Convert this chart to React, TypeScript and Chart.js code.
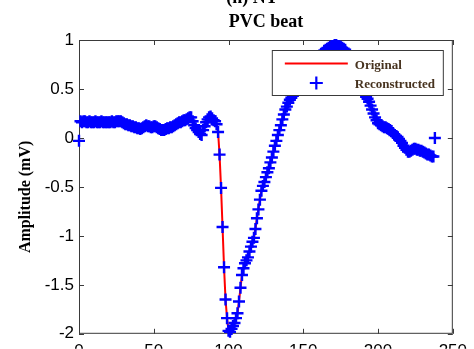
import React, { useEffect, useRef } from "react";
import { Chart, registerables } from "chart.js";

Chart.register(...registerables);

// Sample index 0..238
const original: number[] = [
  0.17, 0.17, 0.16, 0.17, 0.17, 0.16, 0.16, 0.17, 0.16, 0.16,
  0.16, 0.17, 0.16, 0.16, 0.16, 0.17, 0.16, 0.16, 0.16, 0.16,
  0.16, 0.16, 0.17, 0.16, 0.16, 0.17, 0.17, 0.17, 0.17, 0.16,
  0.15, 0.14, 0.14, 0.13, 0.13, 0.12, 0.12, 0.11, 0.11, 0.10,
  0.10, 0.09, 0.10, 0.11, 0.12, 0.13, 0.12, 0.12, 0.11, 0.11,
  0.12, 0.12, 0.11, 0.10, 0.09, 0.08, 0.08, 0.08, 0.09, 0.10,
  0.10, 0.11, 0.11, 0.12, 0.13, 0.14, 0.15, 0.16, 0.16, 0.17,
  0.18, 0.18, 0.19, 0.20, 0.21, 0.21, 0.17, 0.13, 0.10, 0.08,
  0.06, 0.04, 0.03, 0.08, 0.12, 0.16, 0.19, 0.21, 0.22, 0.20,
  0.18, 0.17, 0.14, 0.06, -0.17, -0.51, -0.91, -1.32, -1.65, -1.84,
  -1.97, -1.98, -1.95, -1.92, -1.89, -1.84, -1.79, -1.67, -1.53, -1.40,
  -1.33, -1.28, -1.25, -1.22, -1.16, -1.11, -1.06, -1.02, -0.93, -0.82,
  -0.73, -0.63, -0.54, -0.49, -0.45, -0.40, -0.35, -0.31, -0.25, -0.20,
  -0.14, -0.08, -0.03, 0.03, 0.08, 0.13, 0.19, 0.24, 0.29, 0.32,
  0.36, 0.39, 0.41, 0.43, 0.44, 0.46, 0.48, 0.50, 0.52, 0.55,
  0.57, 0.59, 0.62, 0.64, 0.67, 0.69, 0.72, 0.74, 0.77, 0.79,
  0.82, 0.84, 0.86, 0.87, 0.89, 0.90, 0.91, 0.92, 0.93, 0.94,
  0.94, 0.95, 0.95, 0.94, 0.94, 0.93, 0.92, 0.91, 0.90, 0.87,
  0.84, 0.80, 0.76, 0.72, 0.68, 0.64, 0.60, 0.56, 0.52, 0.49,
  0.46, 0.44, 0.42, 0.40, 0.37, 0.33, 0.29, 0.25, 0.21, 0.18,
  0.15, 0.14, 0.13, 0.12, 0.11, 0.11, 0.10, 0.09, 0.08, 0.07,
  0.05, 0.03, 0.02, 0.01, -0.01, -0.03, -0.05, -0.08, -0.10, -0.12,
  -0.14, -0.14, -0.13, -0.12, -0.11, -0.11, -0.12, -0.12, -0.13, -0.13,
  -0.14, -0.15, -0.16, -0.17, -0.17, -0.18, -0.19, -0.19, -0.20,
];

const reconstructed: number[] = [
  -0.03, 0.17, 0.16, 0.17, 0.17, 0.16, 0.16, 0.17, 0.16, 0.16,
  0.16, 0.17, 0.16, 0.16, 0.16, 0.17, 0.16, 0.16, 0.16, 0.16,
  0.16, 0.16, 0.17, 0.16, 0.16, 0.17, 0.17, 0.17, 0.17, 0.16,
  0.15, 0.14, 0.14, 0.13, 0.13, 0.12, 0.12, 0.11, 0.11, 0.10,
  0.10, 0.09, 0.10, 0.11, 0.12, 0.13, 0.12, 0.12, 0.11, 0.11,
  0.12, 0.12, 0.11, 0.10, 0.09, 0.08, 0.08, 0.08, 0.09, 0.10,
  0.10, 0.11, 0.11, 0.12, 0.13, 0.14, 0.15, 0.16, 0.16, 0.17,
  0.18, 0.18, 0.19, 0.20, 0.21, 0.21, 0.17, 0.13, 0.10, 0.08,
  0.06, 0.04, 0.03, 0.08, 0.12, 0.16, 0.19, 0.21, 0.22, 0.20,
  0.18, 0.17, 0.14, 0.06, -0.17, -0.51, -0.91, -1.32, -1.65, -1.84,
  -1.97, -1.98, -1.95, -1.92, -1.89, -1.84, -1.79, -1.67, -1.53, -1.40,
  -1.33, -1.28, -1.25, -1.22, -1.16, -1.11, -1.06, -1.02, -0.93, -0.82,
  -0.73, -0.63, -0.54, -0.49, -0.45, -0.40, -0.35, -0.31, -0.25, -0.20,
  -0.14, -0.08, -0.03, 0.03, 0.08, 0.13, 0.19, 0.24, 0.29, 0.32,
  0.36, 0.39, 0.41, 0.43, 0.44, 0.46, 0.48, 0.50, 0.52, 0.55,
  0.57, 0.59, 0.62, 0.64, 0.67, 0.69, 0.72, 0.74, 0.77, 0.79,
  0.82, 0.84, 0.86, 0.87, 0.89, 0.90, 0.91, 0.92, 0.93, 0.94,
  0.94, 0.95, 0.95, 0.94, 0.94, 0.93, 0.92, 0.91, 0.90, 0.87,
  0.84, 0.80, 0.76, 0.72, 0.68, 0.64, 0.60, 0.56, 0.52, 0.49,
  0.46, 0.44, 0.42, 0.40, 0.37, 0.33, 0.29, 0.25, 0.21, 0.18,
  0.15, 0.14, 0.13, 0.12, 0.11, 0.11, 0.10, 0.09, 0.08, 0.07,
  0.05, 0.03, 0.02, 0.01, -0.01, -0.03, -0.05, -0.08, -0.10, -0.12,
  -0.14, -0.14, -0.13, -0.12, -0.11, -0.11, -0.12, -0.12, -0.13, -0.13,
  -0.14, -0.15, -0.16, -0.17, -0.17, -0.18, -0.19, -0.19, 0.00,
];

const xTickValues: number[] = [0, 50, 100, 150, 200, 250];
const yTickValues: number[] = [-2, -1.5, -1, -0.5, 0, 0.5, 1];
const seriesNames: string[] = ["Original", "Reconstructed"];
const titleLines: string[] = ["(h) NT", "PVC beat"];
const yAxisTitle = "Amplitude (mV)";

const SERIF = '"Liberation Serif", "Times New Roman", serif';
const SANS = '"Liberation Sans", Arial, sans-serif';

const decorPlugin = {
  id: "matlabDecor",
  beforeDatasetsDraw(chart: any) {
    const { ctx, chartArea } = chart;
    const { left, right, top, bottom } = chartArea;
    const xs = chart.scales.x;
    const ys = chart.scales.y;
    ctx.save();
    ctx.strokeStyle = "#3a3a3a";
    ctx.lineWidth = 1;
    ctx.strokeRect(left + 0.5, top + 0.5, right - left - 1, bottom - top - 1);
    const tl = 5;
    ctx.beginPath();
    xTickValues.forEach((v) => {
      const px = Math.round(xs.getPixelForValue(v)) + 0.5;
      ctx.moveTo(px, bottom);
      ctx.lineTo(px, bottom - tl);
      ctx.moveTo(px, top);
      ctx.lineTo(px, top + tl);
    });
    yTickValues.forEach((v) => {
      const py = Math.round(ys.getPixelForValue(v)) + 0.5;
      ctx.moveTo(left, py);
      ctx.lineTo(left + tl, py);
      ctx.moveTo(right, py);
      ctx.lineTo(right - tl, py);
    });
    ctx.stroke();
    ctx.restore();
  },
  afterDatasetsDraw(chart: any) {
    const { ctx, chartArea } = chart;
    const { left, right, top, bottom } = chartArea;
    ctx.save();
    // Legend box (MATLAB style, inside axes)
    const lx = right - 181;
    const ly = top + 10;
    const lw = 172;
    const lh = 46;
    ctx.fillStyle = "#ffffff";
    ctx.fillRect(lx, ly, lw, lh);
    ctx.strokeStyle = "#3a3a3a";
    ctx.lineWidth = 1;
    ctx.strokeRect(lx + 0.5, ly + 0.5, lw - 1, lh - 1);
    // red line sample
    ctx.strokeStyle = "#ff0000";
    ctx.lineWidth = 2;
    ctx.beginPath();
    ctx.moveTo(lx + 13, ly + 13.5);
    ctx.lineTo(lx + 76, ly + 13.5);
    ctx.stroke();
    // blue plus sample
    ctx.strokeStyle = "#0000ff";
    ctx.lineWidth = 2.2;
    const cx = lx + 44.5;
    const cy = ly + 33;
    ctx.beginPath();
    ctx.moveTo(cx - 6.5, cy);
    ctx.lineTo(cx + 6.5, cy);
    ctx.moveTo(cx, cy - 6.5);
    ctx.lineTo(cx, cy + 6.5);
    ctx.stroke();
    ctx.fillStyle = "#47331f";
    ctx.font = `bold 13px ${SERIF}`;
    ctx.textAlign = "left";
    ctx.textBaseline = "alphabetic";
    ctx.fillText(seriesNames[0], lx + 83, ly + 19);
    ctx.fillText(seriesNames[1], lx + 83, ly + 37.5);

    // Titles
    ctx.fillStyle = "#000000";
    ctx.font = `bold 18px ${SERIF}`;
    ctx.textAlign = "center";
    ctx.fillText(titleLines[0], 252, 2.5);
    ctx.fillText(titleLines[1], (left + right) / 2, top - 13.5);

    // Y axis title
    ctx.translate(30, (top + bottom) / 2 + 10);
    ctx.rotate(-Math.PI / 2);
    ctx.font = `bold 16px ${SERIF}`;
    ctx.textAlign = "center";
    ctx.fillText(yAxisTitle, 0, 0);
    ctx.restore();
  },
};

export default function App() {
  const canvasRef = useRef<HTMLCanvasElement | null>(null);

  useEffect(() => {
    document.body.style.margin = "0";
    const canvas = canvasRef.current;
    if (!canvas) return;
    const chart = new Chart(canvas, {
      type: "line",
      data: {
        datasets: [
          {
            label: seriesNames[0],
            data: original.map((y, i) => ({ x: i, y })),
            borderColor: "#ff0000",
            backgroundColor: "#ff0000",
            borderWidth: 2,
            pointRadius: 0,
            tension: 0,
            fill: false,
            order: 1,
            clip: false as any,
          },
          {
            label: seriesNames[1],
            data: reconstructed.map((y, i) => ({ x: i, y })),
            showLine: false,
            borderColor: "#0000ff",
            backgroundColor: "#0000ff",
            pointStyle: "cross",
            pointRadius: 6,
            pointBorderWidth: 2.4,
            pointBorderColor: "#0000ff",
            order: 0,
            clip: false as any,
          },
        ],
      },
      options: {
        animation: false,
        responsive: false,
        devicePixelRatio: 1,
        layout: { padding: { top: 40, right: 20, left: 0, bottom: 0 } },
        plugins: {
          legend: { display: false },
          tooltip: { enabled: false },
          title: { display: false },
        },
        scales: {
          x: {
            type: "linear",
            min: 0,
            max: 250,
            grid: { display: false, drawTicks: false },
            border: { display: false },
            afterBuildTicks: (scale: any) => {
              scale.ticks = xTickValues.map((v) => ({ value: v }));
            },
            afterFit: (scale: any) => {
              scale.height = 15;
            },
            ticks: {
              padding: 7,
              maxRotation: 0,
              autoSkip: false,
              color: "#000000",
              font: { family: SANS, size: 17 },
            },
          },
          y: {
            type: "linear",
            min: -2,
            max: 1,
            grid: { display: false, drawTicks: false },
            border: { display: false },
            afterBuildTicks: (scale: any) => {
              scale.ticks = yTickValues.map((v) => ({ value: v }));
            },
            afterFit: (scale: any) => {
              scale.width = 79;
            },
            ticks: {
              padding: 5,
              autoSkip: false,
              color: "#000000",
              font: { family: SANS, size: 17 },
              callback: (v: any) => String(v),
            },
          },
        },
      },
      plugins: [decorPlugin],
    });
    return () => chart.destroy();
  }, []);

  return (
    <div style={{ width: 474, height: 349, position: "relative", overflow: "hidden", background: "#fff" }}>
      <canvas ref={canvasRef} width={474} height={349} style={{ display: "block" }} />
    </div>
  );
}
